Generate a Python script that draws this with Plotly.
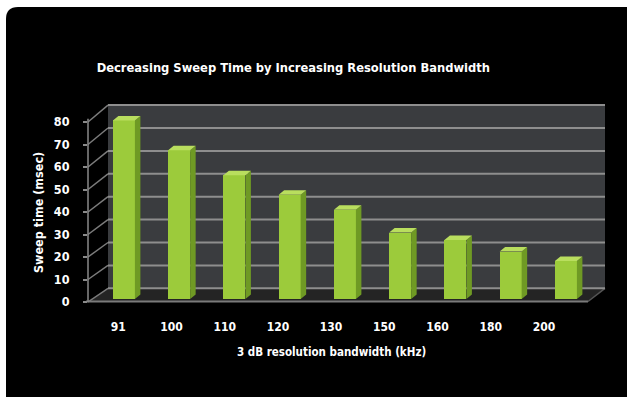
import plotly.graph_objects as go

# ---- data ----
categories = ["91", "100", "110", "120", "130", "150", "160", "180", "200"]
sweep_ms = [78, 65, 54, 45.5, 39, 29, 25.8, 20.7, 16.6]
y_ticks = [0, 10, 20, 30, 40, 50, 60, 70, 80]
title_text = "Decreasing Sweep Time by Increasing Resolution Bandwidth"
x_title = "3 dB resolution bandwidth (kHz)"
y_title = "Sweep time (msec)"

# ---- layout geometry (pixels) ----
W, H = 627, 397
L, R, T, B = 88, 605, 104, 302          # plot area
PW, PH = R - L, B - T
FONT = "DejaVu Sans Condensed, Liberation Sans Narrow, sans-serif"

def xp(px):
    return (px - L) / PW

def yp(py):
    return (B - py) / PH

# label axis: 0 at 302, 2.25 px/unit; label spacing 53.2 px starting 118.3
lab_scale = 2.25
x_lab_range = [(L - 118.3) / 53.2, (R - 118.3) / 53.2]
# bar axis: bar front centres 123.9 + 55.25*i ; 0 at 299, 2.29 px/unit
bar_sp, bar_c0 = 55.25, 123.9
x_bar_range = [(L - bar_c0) / bar_sp, (R - bar_c0) / bar_sp]
vs = 2.29
y_bar_range = [(299 - B) / vs, (299 - T) / vs]
# wall axis: 0 at 288.3
wall0 = 288.3
y_wall_range = [(wall0 - B) / vs, (wall0 - T) / vs]

idx = list(range(len(categories)))
bw = 22 / bar_sp
dx = 5.5 / bar_sp
dy = 4.5 / vs

side_x, side_y, top_x, top_y = [], [], [], []
for i, v in zip(idx, sweep_ms):
    xl, xr = i - bw / 2, i + bw / 2
    side_x += [xr, xr + dx, xr + dx, xr, xr, None]
    side_y += [0, dy, v + dy, v, 0, None]
    top_x += [xl, xl + dx, xr + dx, xr, xl, None]
    top_y += [v, v + dy, v + dy, v, v, None]

fig = go.Figure()
fig.add_trace(go.Bar(x=idx, y=sweep_ms, xaxis="x2", yaxis="y3", width=bw,
                     marker=dict(color="#9ccb3b", line=dict(width=0)),
                     hoverinfo="skip"))
fig.add_trace(go.Scatter(x=side_x, y=side_y, xaxis="x2", yaxis="y3", mode="none",
                         fill="toself", fillcolor="#6f9a24", hoverinfo="skip"))
fig.add_trace(go.Scatter(x=top_x, y=top_y, xaxis="x2", yaxis="y3", mode="none",
                         fill="toself", fillcolor="#b9de5e", hoverinfo="skip"))

shapes = []
# black rounded panel
r = 12
shapes.append(dict(type="path", xref="paper", yref="paper", layer="below",
                   path=(f"M {xp(6)} {yp(H+5)} L {xp(6)} {yp(7+r)} "
                         f"Q {xp(6)} {yp(7)} {xp(6+r)} {yp(7)} "
                         f"L {xp(W+5)} {yp(7)} L {xp(W+5)} {yp(H+5)} Z"),
                   fillcolor="black", line=dict(width=0)))
# back wall
shapes.append(dict(type="rect", xref="paper", yref="y2", layer="below",
                   x0=xp(108), x1=1, y0=0, y1=80,
                   fillcolor="#3a3c3f", line=dict(width=0)))
# floor
shapes.append(dict(type="path", xref="paper", yref="paper", layer="below",
                   path=(f"M {xp(108)} {yp(wall0)} L {xp(605)} {yp(wall0)} "
                         f"L {xp(588)} {yp(302)} L {xp(86)} {yp(302)} Z"),
                   fillcolor="#242424", line=dict(width=0)))
shapes.append(dict(type="line", xref="paper", yref="paper", layer="below",
                   x0=xp(86), x1=xp(588), y0=yp(301.5), y1=yp(301.5),
                   line=dict(color="#7a7a7a", width=2)))
shapes.append(dict(type="line", xref="paper", yref="paper", layer="below",
                   x0=xp(588), x1=xp(605), y0=yp(301.5), y1=yp(wall0),
                   line=dict(color="#555555", width=1.5)))
# wall gridlines + side-wall diagonals
for v in y_ticks:
    shapes.append(dict(type="line", xref="paper", yref="y2", layer="below",
                       x0=xp(108), x1=1, y0=v, y1=v,
                       line=dict(color="#8e8e8e", width=2)))
    shapes.append(dict(type="line", xref="paper", yref="paper", layer="below",
                       x0=0, y0=v * lab_scale / PH,
                       x1=xp(108), y1=yp(wall0 - v * vs),
                       line=dict(color="#7c7c7c", width=1.5)))
# left axis line
shapes.append(dict(type="line", xref="paper", yref="y", layer="below",
                   x0=0, x1=0, y0=0, y1=81.5,
                   line=dict(color="#8a8a8a", width=1.5)))

annotations = [
    dict(text=x_title, xref="paper", yref="paper", x=xp(331), y=yp(352),
         xanchor="center", yanchor="middle", showarrow=False,
         font=dict(family=FONT, size=11.5, color="white", weight="bold")),
    dict(text=y_title, xref="paper", yref="paper", x=xp(38), y=yp(213),
         xanchor="center", yanchor="middle", showarrow=False, textangle=-90,
         font=dict(family=FONT, size=12.5, color="white", weight="bold")),
]

fig.update_layout(
    width=W, height=H,
    margin=dict(l=L, r=W - R, t=T, b=H - B, pad=0),
    paper_bgcolor="white", plot_bgcolor="rgba(0,0,0,0)",
    showlegend=False, bargap=0,
    title=dict(text=title_text, x=293.3 / W, xanchor="center",
               y=1 - 68 / H, yanchor="middle", xref="container", yref="container",
               font=dict(family=FONT, size=12.8, color="white", weight="bold")),
    xaxis=dict(range=x_lab_range, tickvals=idx, ticktext=categories,
               showgrid=False, zeroline=False, showline=False, ticks="",
               ticklabelstandoff=16,
               tickfont=dict(family=FONT, size=12, color="white", weight="bold")),
    yaxis=dict(range=[0, PH / lab_scale], tickvals=y_ticks,
               showgrid=False, zeroline=False, showline=False,
               ticks="outside", ticklen=4, tickcolor="#8a8a8a", tickwidth=1.5,
               ticklabelstandoff=11,
               tickfont=dict(family=FONT, size=12.5, color="white", weight="bold")),
    xaxis2=dict(range=x_bar_range, overlaying="x", visible=False),
    yaxis2=dict(range=y_wall_range, overlaying="y", visible=False),
    yaxis3=dict(range=y_bar_range, overlaying="y", visible=False),
    shapes=shapes, annotations=annotations,
)

fig.write_html("out.html", config={"displayModeBar": False},
               post_script="document.body.style.margin='0';"
                           "document.body.style.background='black';"
                           "document.body.style.overflow='hidden';")
